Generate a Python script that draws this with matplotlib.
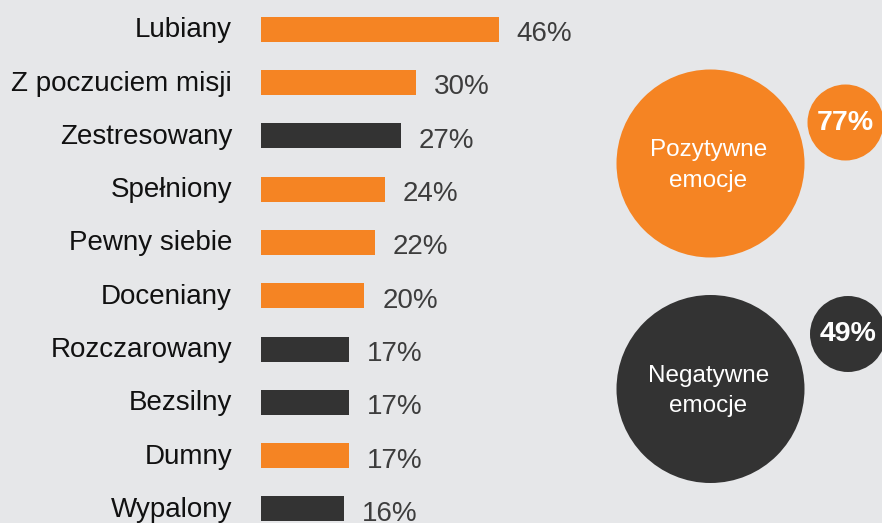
import matplotlib
matplotlib.use("Agg")
import matplotlib.pyplot as plt
from matplotlib.patches import Circle

plt.rcParams['font.family'] = ['Liberation Sans', 'DejaVu Sans']

# data
categories = ['Lubiany', 'Z poczuciem misji', 'Zestresowany', 'Spełniony', 'Pewny siebie',
              'Doceniany', 'Rozczarowany', 'Bezsilny', 'Dumny', 'Wypalony']
values = [46, 30, 27, 24, 22, 20, 17, 17, 17, 16]
positive = [True, True, False, True, True, True, False, False, True, False]
summary_labels = ['Pozytywne\nemocje', 'Negatywne\nemocje']
summary_values = [77, 49]

ORANGE = '#f58423'
DARK = '#333333'
BG = '#e6e7e9'

W, H = 882, 523
fig = plt.figure(figsize=(W / 100, H / 100), dpi=100, facecolor=BG)

# bar axes: 0% at x=261px, 5.17 px per percent, rows 53.3 px apart
px_per_pct = 5.17
x0 = 261
row0, row_h = 29.2, 53.3
ax = fig.add_axes([0, 0, 1, 1])
ax.set_facecolor('none')
ax.set_xlim(-x0 / px_per_pct, (W - x0) / px_per_pct)
ax.set_ylim((H - row0) / row_h, -row0 / row_h)
ax.axis('off')

ys = list(range(len(categories)))
colors = [ORANGE if p else DARK for p in positive]
ax.barh(ys, values, height=25 / row_h, color=colors, linewidth=0)

for y, cat, v in zip(ys, categories, values):
    ax.text(-29 / px_per_pct, y + 0.02, cat, ha='right', va='center',
            fontsize=20, color='#111111')
    ax.text(v + 18 / px_per_pct, y + 0.225, f'{v}%', ha='left', va='baseline',
            fontsize=20, color='#3d3d3d')

# circle axes in pixel coordinates
ax2 = fig.add_axes([0, 0, 1, 1])
ax2.set_facecolor('none')
ax2.set_xlim(0, W)
ax2.set_ylim(H, 0)
ax2.axis('off')

big_pos = [(710.5, 163.5), (710.5, 389)]
small_pos = [(845.5, 122.5), (848, 334)]
for i, (lab, val) in enumerate(zip(summary_labels, summary_values)):
    c = ORANGE if i == 0 else DARK
    bx, by = big_pos[i]
    sx, sy = small_pos[i]
    ax2.add_patch(Circle((bx, by), 94, color=c, lw=0))
    ax2.add_patch(Circle((sx, sy), 38, color=c, lw=0))
    ax2.text(bx - 2, by + 2, lab, ha='center', va='center', fontsize=17.5,
             color='white', linespacing=1.5)
    ax2.text(sx, sy, f'{val}%', ha='center', va='center', fontsize=20.5,
             fontweight='bold', color='white')

fig.savefig('out.png', dpi=100, facecolor=BG)
